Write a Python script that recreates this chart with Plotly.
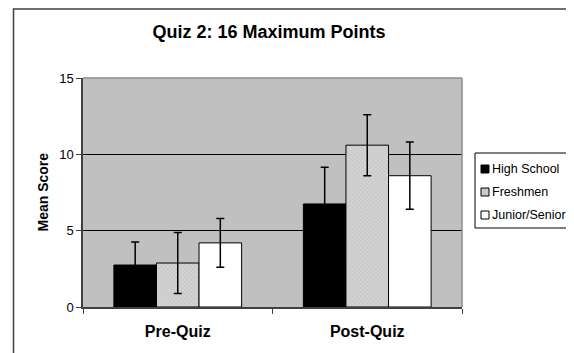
import plotly.graph_objects as go

categories = ["Pre-Quiz", "Post-Quiz"]
series_names = ["High School", "Freshmen", "Junior/Senior"]
high_school = [2.75, 6.75]
freshmen = [2.88, 10.6]
junior_senior = [4.2, 8.6]
high_school_err = [1.5, 2.4]
freshmen_err = [2.0, 2.0]
junior_senior_err = [1.6, 2.2]
y_ticks = [0, 5, 10, 15]

# page body margin offsets the figure by 8px; lay out in reference pixels
OFF = 8
W, H = 574, 353
PLOT_L, PLOT_R, PLOT_T, PLOT_B = 83, 462, 78, 307  # reference pixels
L = PLOT_L - OFF
R = W - (PLOT_R - OFF)
T = PLOT_T - OFF
B = H - (PLOT_B - OFF)
PW, PH = PLOT_R - PLOT_L, PLOT_B - PLOT_T


def px(x):
    return (x - PLOT_L) / PW


def py(y):
    return (PLOT_B - y) / PH


fig = go.Figure()
fills = ["black", "#c8c8c8", "white"]
styles = [
    dict(color="black"),
    dict(color="#c4c4c4", pattern=dict(shape="x", size=3, solidity=0.25, fgcolor="#9a9a9a", bgcolor="#d4d4d4")),
    dict(color="white"),
]
vals = [high_school, freshmen, junior_senior]
errs = [high_school_err, freshmen_err, junior_senior_err]
for name, v, e, st in zip(series_names, vals, errs, styles):
    fig.add_trace(go.Bar(
        x=categories, y=v, name=name,
        marker=dict(line=dict(color="black", width=1), **st),
        error_y=dict(type="data", array=e, color="black", thickness=1.5, width=4),
    ))

fig.update_layout(
    width=W, height=H,
    margin=dict(l=L, r=R, t=T, b=B),
    paper_bgcolor="white", plot_bgcolor="#c0c0c0",
    barmode="group", bargap=0.326, bargroupgap=0,
    font=dict(family="Liberation Sans, Arial", size=13, color="black"),
    title=dict(text="<b>Quiz 2: 16 Maximum Points</b>", xref="container", x=(269 - OFF) / W,
               xanchor="center", y=1 - (32 - OFF) / H, yanchor="middle", font=dict(size=18)),
    showlegend=False,
)
fig.update_xaxes(
    showline=True, linecolor="#404040", linewidth=1.5,
    ticks="outside", tickson="boundaries", ticklen=5, tickcolor="#404040",
    tickfont=dict(size=16), ticklabelstandoff=9,
    tickprefix="<b>", ticksuffix="</b>", showgrid=False,
)
fig.update_yaxes(
    range=[0, 15], tickvals=y_ticks, showline=True, linecolor="#404040", linewidth=1.5,
    ticks="outside", ticklen=5, tickcolor="#404040", tickfont=dict(size=13),
    showgrid=True, gridcolor="black", gridwidth=1, zeroline=False,
)
# y-axis title
fig.add_annotation(xref="paper", yref="paper", x=px(42), y=0.5, text="<b>Mean Score</b>",
                   textangle=-90, showarrow=False, xanchor="center", yanchor="middle",
                   font=dict(size=14))
# plot-area top/right edge
fig.add_shape(type="line", xref="paper", yref="paper", x0=0, x1=1, y0=1, y1=1,
              line=dict(color="#8c8c8c", width=1.5))
fig.add_shape(type="line", xref="paper", yref="paper", x0=1, x1=1, y0=0, y1=1,
              line=dict(color="#8c8c8c", width=1.5))
# legend box
fig.add_shape(type="rect", xref="paper", yref="paper", x0=px(475), x1=px(568),
              y0=py(228), y1=py(153), line=dict(color="black", width=1), fillcolor="white")
row_y = [169, 192, 215]
for name, fc, ry in zip(series_names, fills, row_y):
    fig.add_shape(type="rect", xref="paper", yref="paper", x0=px(481), x1=px(489),
                  y0=py(ry + 4), y1=py(ry - 4), line=dict(color="black", width=1), fillcolor=fc)
    fig.add_annotation(xref="paper", yref="paper", x=px(490), y=py(ry), text=name,
                       showarrow=False, xanchor="left", yanchor="middle", font=dict(size=12.5))
# outer chart frame (top edge kept just inside the drawable canvas)
fig.add_shape(type="rect", xref="paper", yref="paper",
              x0=px(13.5), x1=px(600), y0=py(380), y1=py(OFF + 1),
              line=dict(color="#404040", width=1.5), fillcolor="rgba(0,0,0,0)", layer="above")

fig.write_html("out.html")
